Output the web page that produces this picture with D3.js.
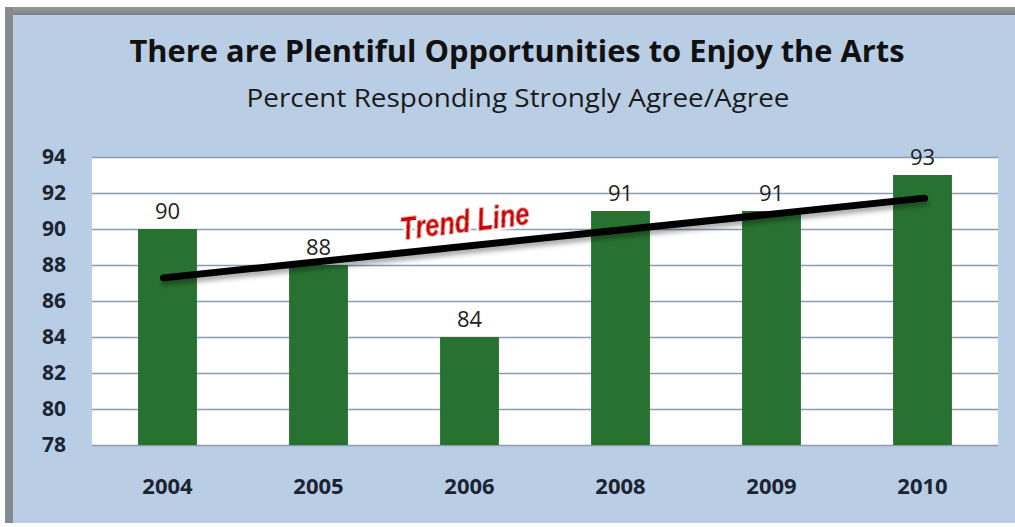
<!DOCTYPE html>
<html>
<head>
<meta charset="utf-8">
<script src="https://cdn.jsdelivr.net/npm/d3@7"></script>
<style>
  html, body { margin: 0; padding: 0; background: #ffffff; }
  svg { display: block; }
</style>
</head>
<body>
<svg id="chart" width="1015" height="527"></svg>
<script>
// Survey results by year
const years = ["2004", "2005", "2006", "2008", "2009", "2010"];
const values = [90, 88, 84, 91, 91, 93];
const yTicks = [78, 80, 82, 84, 86, 88, 90, 92, 94];
const titleText = "There are Plentiful Opportunities to Enjoy the Arts";
const subtitleText = "Percent Responding Strongly Agree/Agree";
const trendLabel = "Trend Line";

const svg = d3.select("#chart");
const W = 1015, H = 527;

const defs = svg.append("defs");
const frameGrad = defs.append("linearGradient").attr("id", "frameTop").attr("x1", 0).attr("y1", 0).attr("x2", 0).attr("y2", 1);
frameGrad.append("stop").attr("offset", "0").attr("stop-color", "#9a9a9a");
frameGrad.append("stop").attr("offset", "1").attr("stop-color", "#7b7f86");
const shadow = defs.append("filter").attr("id", "lineShadow").attr("x", "-5%").attr("y", "-50%").attr("width", "110%").attr("height", "300%");
shadow.append("feDropShadow").attr("dx", 1).attr("dy", 4).attr("stdDeviation", 2.5).attr("flood-color", "#000").attr("flood-opacity", 0.35);
const glow = defs.append("filter").attr("id", "textGlow").attr("x", "-10%").attr("y", "-30%").attr("width", "120%").attr("height", "160%");
glow.append("feMorphology").attr("in", "SourceAlpha").attr("operator", "dilate").attr("radius", 1.5).attr("result", "d");
glow.append("feFlood").attr("flood-color", "#ffffff");
glow.append("feComposite").attr("in2", "d").attr("operator", "in").attr("result", "w");
const gm = glow.append("feMerge");
gm.append("feMergeNode").attr("in", "w");
gm.append("feMergeNode").attr("in", "SourceGraphic");

// Chart frame
svg.append("rect").attr("x", 5).attr("y", 7).attr("width", W - 5).attr("height", H - 11).attr("fill", "#b9cde5");
svg.append("rect").attr("x", 5).attr("y", 7).attr("width", W - 5).attr("height", 8).attr("fill", "url(#frameTop)");
svg.append("rect").attr("x", 5).attr("y", 7).attr("width", 8).attr("height", H - 11).attr("fill", "#858a90");

// Titles
svg.append("text").attr("x", 517).attr("y", 62).attr("text-anchor", "middle")
  .attr("font-family", "'Open Sans', sans-serif").attr("font-weight", "bold")
  .attr("font-size", 30).attr("textLength", 775).attr("lengthAdjust", "spacingAndGlyphs")
  .attr("fill", "#111").text(titleText);
svg.append("text").attr("x", 518).attr("y", 107).attr("text-anchor", "middle")
  .attr("font-family", "'Open Sans', sans-serif")
  .attr("font-size", 25).attr("textLength", 543).attr("lengthAdjust", "spacingAndGlyphs")
  .attr("fill", "#1a1a1a").text(subtitleText);

// Plot area
const plot = { left: 92, right: 998, top: 157, bottom: 445 };
const x = d3.scaleBand().domain(years).range([plot.left, plot.right]).paddingInner(0.61).paddingOuter(0.305);
const y = d3.scaleLinear().domain([78, 94]).range([plot.bottom, plot.top]);

svg.append("rect").attr("x", plot.left).attr("y", plot.top)
  .attr("width", plot.right - plot.left).attr("height", plot.bottom - plot.top).attr("fill", "#ffffff");

// Gridlines and y axis
const yAxis = d3.axisLeft(y).tickValues(yTicks).tickSize(-(plot.right - plot.left)).tickPadding(26);
const gy = svg.append("g").attr("transform", `translate(${plot.left},0)`).call(yAxis);
gy.select(".domain").remove();
gy.selectAll(".tick line").attr("stroke", "#8c9bb0").attr("stroke-width", 1.3);
gy.selectAll(".tick text").attr("font-family", "'Open Sans', sans-serif").attr("font-weight", "bold")
  .attr("font-size", 21).attr("fill", "#1b2433");

// Bars
svg.append("g").selectAll("rect").data(values).join("rect")
  .attr("x", (d, i) => x(years[i]))
  .attr("y", d => y(d))
  .attr("width", x.bandwidth())
  .attr("height", d => y(78) - y(d))
  .attr("fill", "#287231");

// Value labels
svg.append("g").selectAll("text").data(values).join("text")
  .attr("x", (d, i) => x(years[i]) + x.bandwidth() / 2)
  .attr("y", d => y(d) - 10)
  .attr("text-anchor", "middle")
  .attr("font-family", "'Open Sans', sans-serif").attr("font-size", 22)
  .attr("fill", "#1e1e1e").text(d => d);

// X axis labels
const xAxis = d3.axisBottom(x).tickSize(0).tickPadding(33);
const gx = svg.append("g").attr("transform", `translate(0,${plot.bottom})`).call(xAxis);
gx.select(".domain").remove();
gx.selectAll(".tick text").attr("font-family", "'Open Sans', sans-serif").attr("font-weight", "bold")
  .attr("font-size", 22).attr("fill", "#1b2433");

// Linear trend (least squares over category index)
const n = values.length;
const mx = (n - 1) / 2;
const my = d3.mean(values);
const slope = d3.sum(values, (v, i) => (i - mx) * (v - my)) / d3.sum(values, (v, i) => (i - mx) ** 2);
const trendAt = i => my + slope * (i - mx);
const cx = i => x(years[i]) + x.bandwidth() / 2;
svg.append("line")
  .attr("x1", cx(0) - 4).attr("y1", y(trendAt(0)))
  .attr("x2", cx(n - 1) + 2).attr("y2", y(trendAt(n - 1)))
  .attr("stroke", "#000").attr("stroke-width", 7).attr("stroke-linecap", "round")
  .attr("filter", "url(#lineShadow)");

// Trend label
const angle = Math.atan2(y(trendAt(n - 1)) - y(trendAt(0)), cx(n - 1) - cx(0)) * 180 / Math.PI;
svg.append("text")
  .attr("transform", `translate(466,232) rotate(${angle - 1})`)
  .attr("text-anchor", "middle")
  .attr("font-family", "'Liberation Sans', Arial, sans-serif").attr("font-weight", "bold").attr("font-style", "italic")
  .attr("font-size", 31).attr("textLength", 130).attr("lengthAdjust", "spacingAndGlyphs")
  .attr("fill", "#cc0000").attr("stroke", "#cc0000").attr("stroke-width", 0.8)
  .attr("filter", "url(#textGlow)")
  .text(trendLabel);
</script>
</body>
</html>
